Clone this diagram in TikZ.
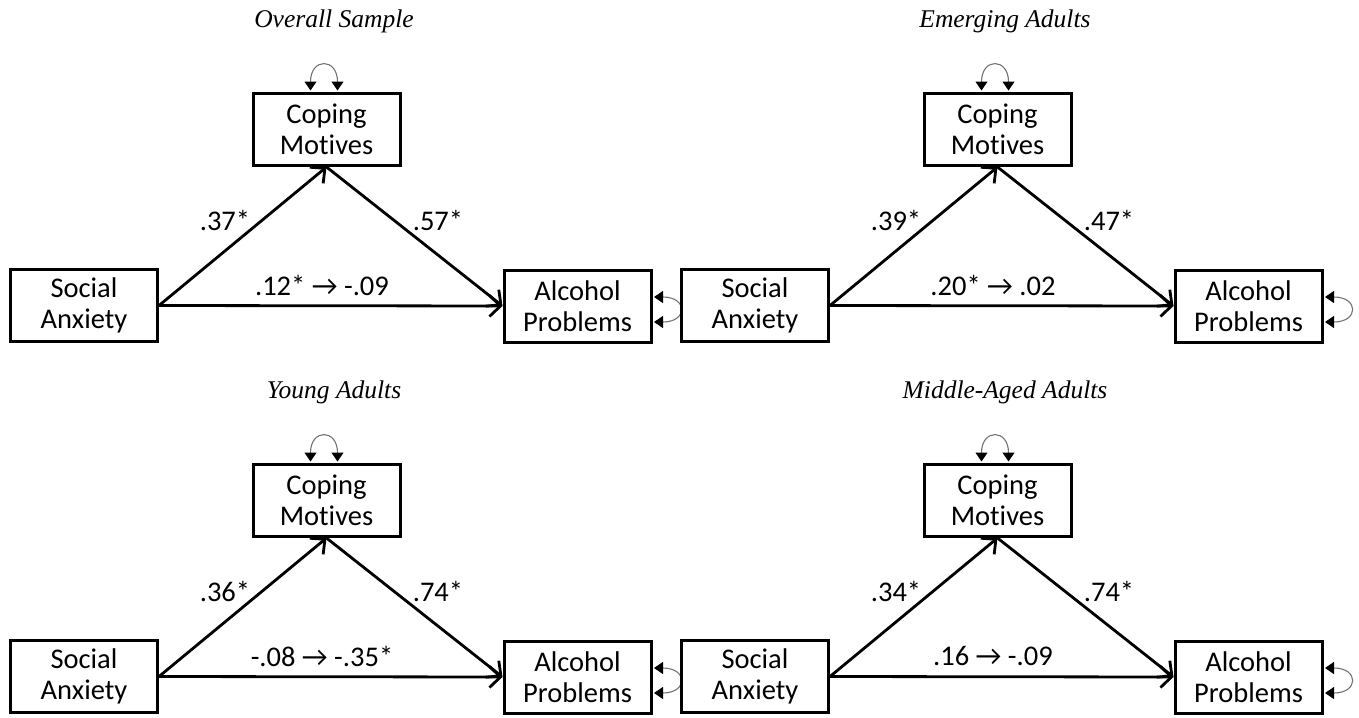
\documentclass[tikz,border=0pt]{standalone}
\usepackage{fontspec}
\setmainfont[Ligatures=NoCommon]{Carlito}
\newfontfamily\titlefont{Liberation Serif}
\usetikzlibrary{arrows.meta}
\tikzset{
  varbox/.style={draw, line width=3pt, minimum width=147pt, minimum height=72pt,
    inner sep=0pt, align=center, font=\fontsize{28.5}{30.5}\selectfont},
  patharrow/.style={line width=2.8pt, -{Straight Barb[length=11pt,width=21pt]}},
  coef/.style={font=\fontsize{28.5}{30}\selectfont, inner sep=0pt},
  paneltitle/.style={font=\titlefont\itshape\fontsize{25.5}{28}\selectfont, inner sep=0pt},
  varloop/.style={draw=black!55, line width=1.1pt,
    {Triangle[length=9pt,width=12pt,color=black]}-{Triangle[length=9pt,width=12pt,color=black]}},
}
\newcommand\mypanel[7]{%
  \begin{scope}[shift={(#2,#3)}]
    \node[paneltitle] (#1-t) at (334,21) {#4};
    \node[varbox] (#1-sa) at (84,305.5) {Social\\Anxiety};
    \node[varbox] (#1-cm) at (326.5,129.5) {Coping\\Motives};
    \node[varbox] (#1-ap) at (577.5,306) {Alcohol\\Problems};
    \draw[patharrow] (#1-sa.east) -- (#1-cm.south);
    \draw[patharrow] (#1-cm.south) -- (#1-ap.west);
    \draw[patharrow] (#1-sa.east) -- (#1-ap.west);
    \node[coef] (#1-a) at (225,220) {#5};
    \node[coef] (#1-b) at (438,220) {#6};
    \node[coef] (#1-c) at (322,285) {#7};
    \draw[varloop] ([xshift=-16pt,yshift=1.5pt]#1-cm.north) .. controls +(0,33pt) and +(0,33pt) .. ([xshift=11pt,yshift=1.5pt]#1-cm.north);
    \draw[varloop] ([xshift=1.5pt,yshift=9pt]#1-ap.east) .. controls +(34pt,0) and +(34pt,0) .. ([xshift=1.5pt,yshift=-16pt]#1-ap.east);
  \end{scope}}
\begin{document}
\begin{tikzpicture}[x=1pt,y=-1pt]
  \useasboundingbox (0,0) rectangle (1359,717);
  \mypanel{p1}{0}{0}{Overall Sample}{.37*}{.57*}{.12* → -.09}
  \mypanel{p2}{671}{0}{Emerging Adults}{.39*}{.47*}{.20* → .02}
  \mypanel{p3}{0}{371}{Young Adults}{.36*}{.74*}{-.08 → -.35*}
  \mypanel{p4}{671}{371}{Middle-Aged Adults}{.34*}{.74*}{.16 → -.09}
\end{tikzpicture}
\end{document}
